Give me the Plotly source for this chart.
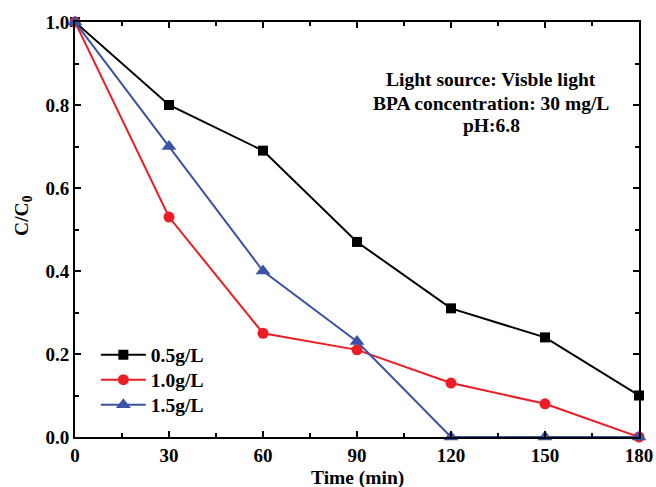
import plotly.graph_objects as go

time_min = [0, 30, 60, 90, 120, 150, 180]
c_05 = [1.0, 0.80, 0.69, 0.47, 0.31, 0.24, 0.10]
c_10 = [1.0, 0.53, 0.25, 0.21, 0.13, 0.08, 0.0]
c_15 = [1.0, 0.70, 0.40, 0.23, 0.0, 0.0, 0.0]
series_names = ["0.5g/L", "1.0g/L", "1.5g/L"]
x_ticks = [0, 30, 60, 90, 120, 150, 180]
y_ticks = [0.0, 0.2, 0.4, 0.6, 0.8, 1.0]
info_lines = ["Light source: Visble light", "BPA concentration: 30 mg/L", "pH:6.8"]

FONT = "Liberation Serif"
def bf(size):
    return dict(family=FONT, size=size, color="black", weight="bold")

fig = go.Figure()
styles = [
    ("black", "square", 10),
    ("#ee1c25", "circle", 11),
    ("#3a53a4", "triangle-up", 13),
]
legend_ids = ["legend", "legend2", "legend3"]
for name, ys, (col, sym, sz), lg in zip(series_names, [c_05, c_10, c_15], styles, legend_ids):
    fig.add_trace(go.Scatter(
        x=time_min, y=ys, name=name, mode="lines+markers",
        line=dict(color=col, width=2),
        marker=dict(symbol=sym, size=sz, color=col),
        cliponaxis=False, legend=lg, showlegend=True,
    ))

axis_common = dict(
    showline=True, linecolor="black", linewidth=2, mirror="ticks",
    ticks="inside", ticklen=6, tickwidth=2, tickcolor="black",
    showgrid=False, zeroline=False, automargin=False,
    tickfont=bf(19),
)
fig.update_xaxes(
    range=[0, 180], tickvals=x_ticks,
    minor=dict(ticks="inside", ticklen=4, tickwidth=2, dtick=15, tickcolor="black", showgrid=False),
    **axis_common,
)
fig.update_yaxes(
    range=[0, 1.0], tickvals=y_ticks, tickformat=".1f",
    minor=dict(ticks="inside", ticklen=4, tickwidth=2, dtick=0.1, tickcolor="black", showgrid=False),
    **axis_common,
)
fig.add_annotation(xref="paper", yref="paper", x=0.5, y=-0.099,
                   xanchor="center", yanchor="middle", showarrow=False,
                   text="Time (min)", font=bf(19.5))
fig.add_annotation(xref="paper", yref="paper", x=-0.092, y=0.533,
                   xanchor="center", yanchor="middle", showarrow=False, textangle=-90,
                   text="C/C<sub>0</sub>", font=bf(19.5))
for txt, yy in zip(info_lines, [0.861, 0.803, 0.750]):
    fig.add_annotation(xref="paper", yref="paper", x=0.738, y=yy,
                       xanchor="center", yanchor="middle", showarrow=False,
                       text=txt, font=bf(19.5))

leg_common = dict(x=0.037, xanchor="left", yanchor="middle",
                  bgcolor="rgba(0,0,0,0)", itemwidth=45, font=bf(19.5))
fig.update_layout(
    width=656, height=487, showlegend=True,
    margin=dict(l=75, r=17, t=22, b=50),
    paper_bgcolor="white", plot_bgcolor="white",
    legend=dict(y=0.1976, **leg_common),
    legend2=dict(y=0.1373, **leg_common),
    legend3=dict(y=0.0771, **leg_common),
)
fig.write_html("out.html", config={"displayModeBar": False},
               post_script="document.body.style.margin='0';document.body.style.overflow='hidden';")
